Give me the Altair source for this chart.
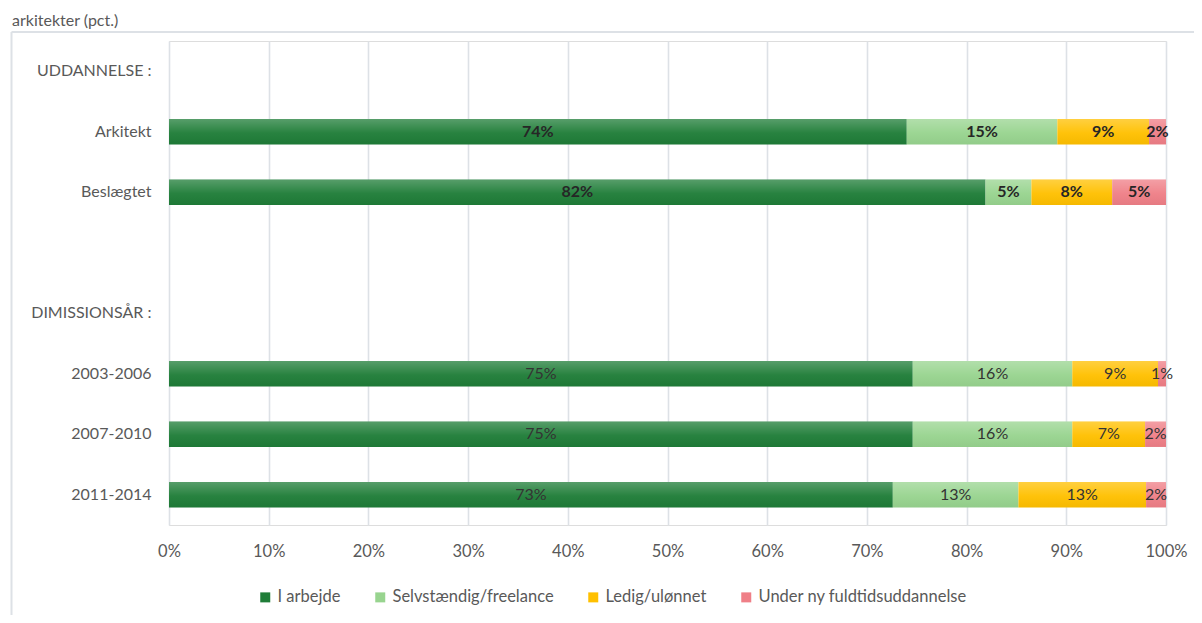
import altair as alt
import pandas as pd

# ---- data ----
categories = ["UDDANNELSE :", "Arkitekt", "Beslægtet", " ", "DIMISSIONSÅR :",
              "2003-2006", "2007-2010", "2011-2014"]
rows = ["Arkitekt", "Beslægtet", "2003-2006", "2007-2010", "2011-2014"]
series = ["I arbejde", "Selvstændig/freelance", "Ledig/ulønnet", "Under ny fuldtidsuddannelse"]
i_arbejde = [74.0, 81.9, 74.6, 74.6, 72.6]
selvstaendig = [15.1, 4.6, 16.0, 16.0, 12.6]
ledig = [9.2, 8.1, 8.6, 7.3, 12.8]
under_ny = [1.7, 5.4, 0.8, 2.1, 2.0]
bold_rows = ["Arkitekt", "Beslægtet"]
x_ticks = [0, 10, 20, 30, 40, 50, 60, 70, 80, 90, 100]
title_text = "arkitekter (pct.)"

colors = ["#1f7d38", "#98d48f", "#ffc000", "#ef7f87"]

records = []
for s_i, (s, vals) in enumerate(zip(series, [i_arbejde, selvstaendig, ledig, under_ny])):
    for r, v in zip(rows, vals):
        records.append({"row": r, "series": s, "value": v, "order": s_i,
                        "bold": r in bold_rows})
df = pd.DataFrame(records)

FONT = "Lato"
W, H = 997, 484

yscale = alt.Scale(domain=categories, paddingInner=0.58, paddingOuter=0.29)
xscale = alt.Scale(domain=[0, 100])

base = alt.Chart(df).transform_stack(
    stack="value", groupby=["row"], as_=["x0", "x1"],
    sort=[alt.SortField("order", order="ascending")]
).transform_calculate(
    xm="(datum.x0 + datum.x1) / 2",
    label="format(datum.value, '.0f') + '%'"
)

bars = base.mark_bar().encode(
    y=alt.Y("row:N", scale=yscale, title=None,
            axis=alt.Axis(domain=False, ticks=False, grid=False, labelPadding=18,
                          labelFontSize=16, labelColor="#595959", labelFont=FONT)),
    x=alt.X("x0:Q", scale=xscale, title=None,
            axis=alt.Axis(values=x_ticks, labelExpr="datum.value + '%'",
                          domain=False, ticks=False, grid=True, labelFlush=False,
                          gridColor="#dde1e6", gridWidth=1.6,
                          labelPadding=18, labelFontSize=16.5,
                          labelColor="#595959", labelFont=FONT)),
    x2="x1:Q",
    color=alt.Color("series:N", scale=alt.Scale(domain=series, range=colors),
                    legend=alt.Legend(orient="none", legendX=88, legendY=548,
                                      direction="horizontal", title=None,
                                      symbolType="square", symbolSize=100,
                                      symbolStrokeWidth=0, labelLimit=0,
                                      labelFontSize=16.5, labelColor="#595959",
                                      labelFont=FONT, labelOffset=4,
                                      columnPadding=31, padding=0)),
)

sheen = base.mark_bar(
    fill=alt.Gradient(
        gradient="linear", x1=0, x2=0, y1=0, y2=1,
        stops=[alt.GradientStop(color="rgba(255,255,255,0.25)", offset=0),
               alt.GradientStop(color="rgba(255,255,255,0.04)", offset=0.55),
               alt.GradientStop(color="rgba(0,0,0,0.04)", offset=1)])
).encode(
    y=alt.Y("row:N", scale=yscale),
    x=alt.X("x0:Q", scale=xscale),
    x2="x1:Q",
)

text_bold = base.transform_filter("datum.bold").mark_text(
    fontSize=16, fontWeight="bold", color="#262626", font=FONT
).encode(y=alt.Y("row:N", scale=yscale), x=alt.X("xm:Q", scale=xscale), text="label:N")

text_norm = base.transform_filter("!datum.bold").mark_text(
    fontSize=16, color="#333333", font=FONT
).encode(y=alt.Y("row:N", scale=yscale), x=alt.X("xm:Q", scale=xscale), text="label:N")

dummy = alt.Chart(pd.DataFrame({"k": [0]}))
frame_left = dummy.mark_rule(color="#dde1e6", strokeWidth=2).encode(
    x=alt.value(-157.5), y=alt.value(-9), y2=alt.value(600))
frame_top = dummy.mark_rule(color="#dde1e6", strokeWidth=2).encode(
    x=alt.value(-157.5), x2=alt.value(1030), y=alt.value(-9))
title = dummy.mark_text(align="left", baseline="alphabetic", fontSize=16,
                        color="#595959", font=FONT).encode(
    x=alt.value(-157), y=alt.value(-15), text=alt.value(title_text))

chart = alt.layer(frame_left, frame_top, title, bars, sheen, text_bold, text_norm).properties(
    width=W, height=H,
    autosize=alt.AutoSizeParams(type="none"),
    padding={"left": 161, "top": 33, "right": 28, "bottom": 90},
).configure_view(stroke=None).configure(font=FONT)

chart.save("out.html", embed_options={"renderer": "svg", "actions": False})
